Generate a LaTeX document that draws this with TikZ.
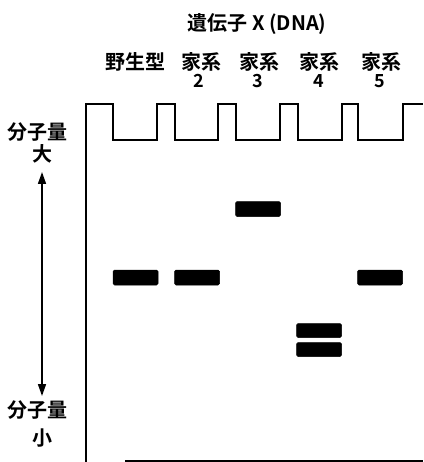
\documentclass[tikz,border=0pt]{standalone}
\usepackage{fontspec}
\setmainfont{Noto Sans CJK JP}[BoldFont={Noto Sans CJK JP Bold}]
\usetikzlibrary{arrows.meta}
\begin{document}
\begin{tikzpicture}[x=1pt,y=-1pt,
  lbl/.style={font=\fontsize{20}{21}\selectfont\bfseries, inner sep=0pt, anchor=center},
  num/.style={font=\fontsize{18}{19}\selectfont\bfseries, inner sep=0pt, anchor=center},
  band/.style={fill=black, draw=black, rounded corners=1.5pt, line width=0.5pt},
  gel/.style={line width=1.6pt, line join=miter},
  tip/.tip={Triangle[length=12pt,width=8pt]}
]
\useasboundingbox (0,0) rectangle (423,462);
% title
\node[lbl] (title) at (257,24) {遺伝子 X (DNA)};
% lane labels
\node[lbl] (wt) at (135,62) {野生型};
\node[lbl] (f2) at (201,62) {家系};
\node[num] (n2) at (199,81) {2};
\node[lbl] (f3) at (259,62) {家系};
\node[num] (n3) at (258,81) {3};
\node[lbl] (f4) at (319,62) {家系};
\node[num] (n4) at (319,81) {4};
\node[lbl] (f5) at (381,62) {家系};
\node[num] (n5) at (380,81) {5};
% axis labels
\node[lbl] (mwh) at (37,132) {分子量};
\node[lbl] (big) at (42,154) {大};
\node[lbl] (mwl) at (37,410) {分子量};
\node[lbl] (small) at (42,438) {小};
\coordinate (atop) at (42,172);
\coordinate (abot) at (42,396);
\draw[line width=1.6pt, tip-tip] (atop) -- (abot);
% gel outline
\draw[gel] (86,462) -- (86,104) -- (113,104) -- (113,140) -- (157,140) -- (157,104)
  -- (175,104) -- (175,140) -- (218,140) -- (218,104)
  -- (236,104) -- (236,140) -- (280,140) -- (280,104)
  -- (298,104) -- (298,140) -- (342,140) -- (342,104)
  -- (358,104) -- (358,140) -- (403,140) -- (403,104) -- (423,104);
\draw[line width=1.2pt] (125,461) -- (423,461);
% bands
\node[band, minimum width=45pt, minimum height=15pt, inner sep=0pt] (b1) at (135.5,277.5) {};
\node[band, minimum width=45pt, minimum height=15pt, inner sep=0pt] (b2) at (197,277.5) {};
\node[band, minimum width=45pt, minimum height=15pt, inner sep=0pt] (b3) at (258,209) {};
\node[band, minimum width=45pt, minimum height=14pt, inner sep=0pt] (b4a) at (319,330.5) {};
\node[band, minimum width=45pt, minimum height=14pt, inner sep=0pt] (b4b) at (319,349.5) {};
\node[band, minimum width=45pt, minimum height=15pt, inner sep=0pt] (b5) at (380,277.5) {};
\end{tikzpicture}
\end{document}
